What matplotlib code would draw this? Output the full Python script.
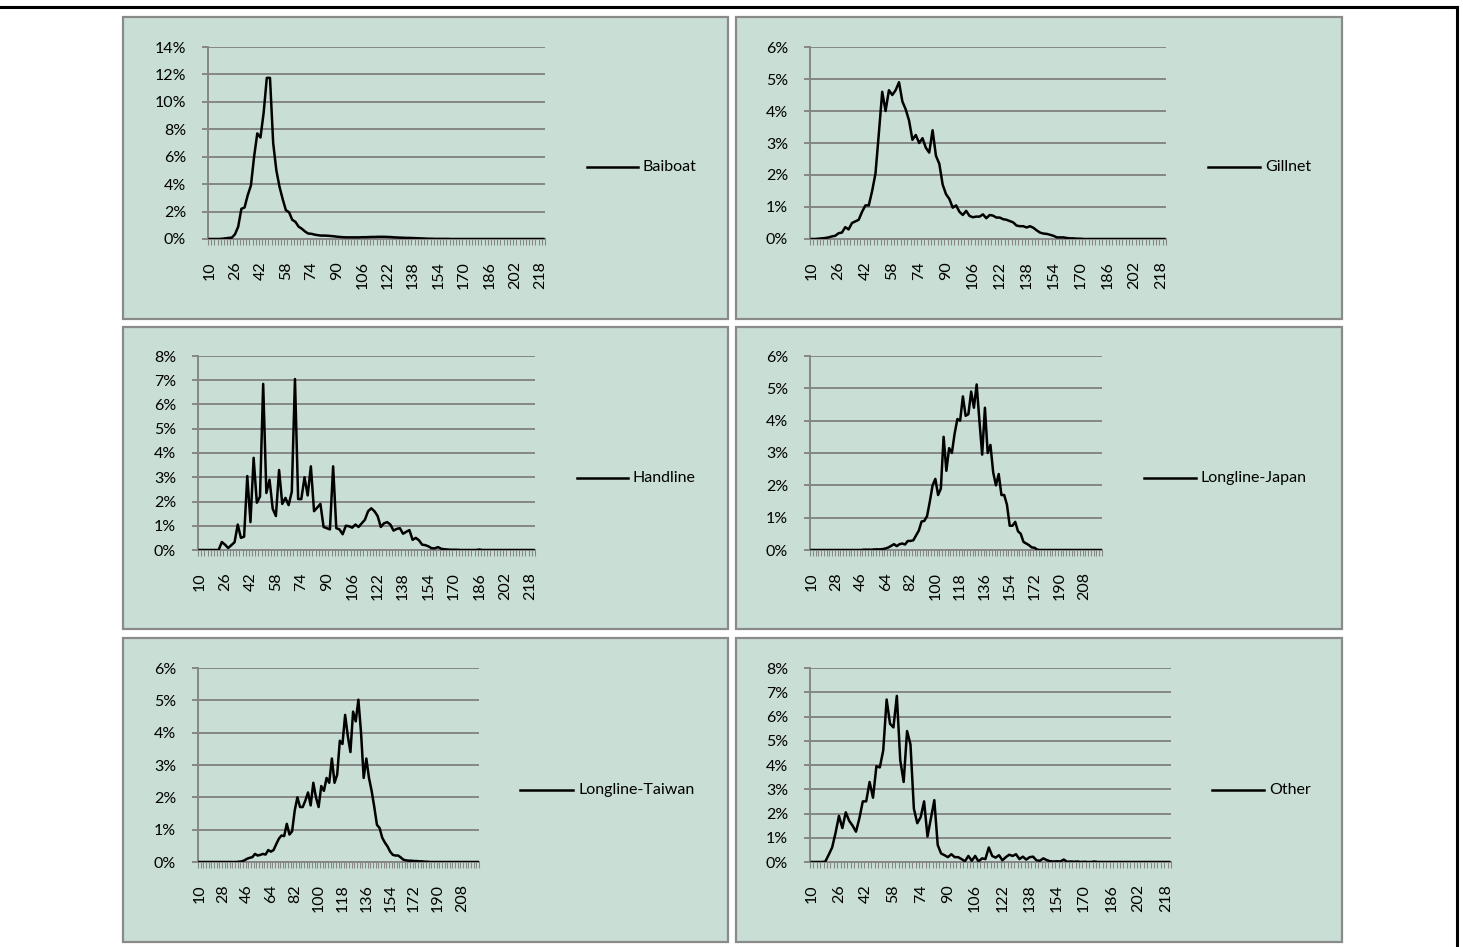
import matplotlib
matplotlib.use("Agg")
import matplotlib.pyplot as plt
import numpy as np
from matplotlib.lines import Line2D
from matplotlib.patches import Rectangle
from matplotlib.ticker import FixedLocator, FuncFormatter

plt.rcParams["font.family"] = ["Lato", "DejaVu Sans"]

W, H = 1463, 947

# length classes (cm), 2 cm bins
lengths = list(range(10, 222, 2))

# percentage of catch in each length class
baiboat = [
    0, 0, 0, 0, 0.02, 0.05, 0.08, 0.1, 0.35, 0.9,
    2.2, 2.3, 3.2, 3.9, 6.0, 7.7, 7.4, 9.2, 11.75, 11.75,
    7.0, 5.0, 3.8, 2.9, 2.1, 1.95, 1.4, 1.25, 0.9, 0.75,
    0.55, 0.4, 0.38, 0.32, 0.28, 0.25, 0.25, 0.24, 0.22, 0.2,
    0.17, 0.15, 0.13, 0.12, 0.12, 0.12, 0.12, 0.12, 0.13, 0.13,
    0.14, 0.15, 0.15, 0.16, 0.16, 0.16, 0.15, 0.14, 0.12, 0.11,
    0.1, 0.09, 0.08, 0.08, 0.07, 0.06, 0.05, 0.04, 0.03, 0.02,
    0.02, 0.01, 0.01, 0.01, 0.01, 0.01, 0, 0, 0, 0,
    0, 0, 0, 0, 0, 0, 0, 0, 0, 0,
    0, 0, 0, 0, 0, 0, 0, 0, 0, 0,
    0, 0, 0, 0, 0, 0]

gillnet = [
    0, 0, 0.01, 0.02, 0.03, 0.05, 0.08, 0.1, 0.18, 0.2,
    0.37, 0.3, 0.5, 0.55, 0.6, 0.85, 1.05, 1.05, 1.5, 2.05,
    3.3, 4.6, 4.0, 4.65, 4.5, 4.65, 4.9, 4.3, 4.05, 3.7,
    3.1, 3.25, 3.0, 3.15, 2.85, 2.7, 3.4, 2.6, 2.35, 1.7,
    1.4, 1.25, 0.98, 1.05, 0.85, 0.75, 0.88, 0.72, 0.68, 0.7,
    0.7, 0.77, 0.65, 0.75, 0.73, 0.67, 0.67, 0.62, 0.6, 0.56,
    0.52, 0.42, 0.4, 0.4, 0.36, 0.4, 0.35, 0.27, 0.2, 0.17,
    0.16, 0.13, 0.1, 0.05, 0.05, 0.05, 0.03, 0.02, 0.02, 0.01,
    0.01, 0, 0, 0, 0, 0, 0, 0, 0, 0,
    0, 0, 0, 0, 0, 0, 0, 0, 0, 0,
    0, 0, 0, 0, 0, 0]

handline = [
    0, 0, 0, 0, 0, 0, 0, 0.33, 0.22, 0.08,
    0.2, 0.32, 1.05, 0.5, 0.55, 3.05, 1.15, 3.8, 1.95, 2.2,
    6.85, 2.35, 2.9, 1.7, 1.4, 3.3, 1.9, 2.15, 1.85, 2.4,
    7.05, 2.1, 2.1, 3.0, 2.25, 3.45, 1.6, 1.75, 1.9, 0.95,
    0.9, 0.85, 3.45, 0.9, 0.85, 0.65, 1.0, 0.98, 0.92, 1.05,
    0.95, 1.1, 1.25, 1.6, 1.72, 1.6, 1.4, 0.95, 1.1, 1.15,
    1.05, 0.8, 0.87, 0.9, 0.67, 0.75, 0.82, 0.42, 0.5, 0.4,
    0.22, 0.2, 0.15, 0.07, 0.07, 0.12, 0.05, 0.03, 0.02, 0.01,
    0.01, 0.01, 0, 0, 0, 0, 0, 0, 0.02, 0,
    0, 0, 0, 0, 0, 0, 0, 0, 0, 0,
    0, 0, 0, 0, 0, 0]

longline_japan = [
    0, 0, 0, 0, 0, 0, 0, 0, 0, 0,
    0, 0, 0, 0, 0, 0, 0, 0, 0, 0.01,
    0.01, 0.01, 0.01, 0.02, 0.02, 0.02, 0.03, 0.05, 0.08, 0.13,
    0.18, 0.12, 0.18, 0.2, 0.17, 0.28, 0.28, 0.3, 0.45, 0.6,
    0.88, 0.9, 1.05, 1.5, 2.0, 2.2, 1.7, 1.9, 3.5, 2.45,
    3.15, 3.0, 3.6, 4.05, 4.0, 4.75, 4.15, 4.2, 4.9, 4.4,
    5.12, 4.0, 2.95, 4.4, 3.0, 3.25, 2.4, 2.0, 2.35, 1.7,
    1.7, 1.4, 0.75, 0.75, 0.87, 0.58, 0.5, 0.25, 0.2, 0.15,
    0.08, 0.07, 0.01, 0, 0, 0, 0, 0, 0, 0,
    0, 0, 0, 0, 0, 0, 0, 0, 0, 0,
    0, 0, 0, 0, 0, 0]

longline_taiwan = [
    0, 0, 0, 0, 0, 0, 0, 0, 0, 0,
    0, 0, 0, 0, 0, 0.01, 0.02, 0.05, 0.1, 0.13,
    0.15, 0.25, 0.2, 0.22, 0.25, 0.23, 0.37, 0.32, 0.37, 0.55,
    0.72, 0.82, 0.8, 1.18, 0.85, 0.95, 1.6, 2.0, 1.7, 1.7,
    1.9, 2.15, 1.75, 2.45, 2.0, 1.7, 2.35, 2.2, 2.6, 2.45,
    3.2, 2.45, 2.7, 3.75, 3.65, 4.55, 3.9, 3.4, 4.65, 4.35,
    5.02, 4.0, 2.6, 3.2, 2.6, 2.2, 1.7, 1.15, 1.05, 0.75,
    0.6, 0.48, 0.32, 0.22, 0.2, 0.2, 0.14, 0.07, 0.05, 0.04,
    0.04, 0.03, 0.03, 0.02, 0.02, 0.01, 0.01, 0, 0, 0,
    0, 0, 0, 0, 0, 0, 0, 0, 0, 0,
    0, 0, 0, 0, 0, 0]

other = [
    0, 0, 0, 0, 0.02, 0.3, 0.6, 1.2, 1.9, 1.4,
    2.05, 1.7, 1.5, 1.25, 1.8, 2.5, 2.5, 3.3, 2.65, 3.95,
    3.9, 4.6, 6.7, 5.7, 5.55, 6.85, 4.2, 3.3, 5.4, 4.85,
    2.2, 1.6, 1.85, 2.5, 1.05, 1.8, 2.55, 0.7, 0.35, 0.28,
    0.2, 0.32, 0.2, 0.2, 0.12, 0.03, 0.25, 0.05, 0.25, 0.02,
    0.15, 0.12, 0.6, 0.25, 0.18, 0.28, 0.07, 0.2, 0.3, 0.25,
    0.32, 0.12, 0.22, 0.1, 0.2, 0.22, 0.07, 0.05, 0.15, 0.08,
    0.03, 0.02, 0.03, 0.02, 0.1, 0.01, 0.02, 0.01, 0.02, 0,
    0.01, 0, 0, 0.02, 0, 0, 0, 0, 0, 0,
    0, 0, 0, 0, 0, 0, 0, 0, 0, 0,
    0, 0, 0, 0, 0, 0]

names = ["Baiboat", "Gillnet", "Handline", "Longline-Japan", "Longline-Taiwan", "Other"]
series = [baiboat, gillnet, handline, longline_japan, longline_taiwan, other]
y_max = [14, 6, 8, 6, 6, 8]
y_step = [2, 1, 1, 1, 1, 1]
label_every = [8, 8, 8, 9, 9, 8]

# layout in pixels
panels = [(123, 17, 728, 319), (736, 17, 1342, 319),
          (123, 327, 728, 629), (736, 327, 1342, 629),
          (123, 638, 728, 942), (736, 638, 1342, 942)]
plot_boxes = [(208, 47, 545, 239), (810, 47, 1166, 239),
              (198, 356, 535, 550), (810, 356, 1102, 550),
              (198, 668, 479, 862), (810, 668, 1171, 862)]
legend_pos = [(587, 638, 167), (1208, 1260, 167),
              (577, 628, 478), (1144, 1196, 478),
              (520, 573, 790), (1212, 1264, 790)]

bg = "#C9DFD6"
grey = "#868686"
fs = 11.5

fig = plt.figure(figsize=(W / 100, H / 100), dpi=100)

# outer frame lines
fig.add_artist(Line2D([0, 1457 / W], [1 - 7 / H, 1 - 7 / H], color="black", lw=2.2))
fig.add_artist(Line2D([1457 / W, 1457 / W], [1 - 7 / H, 0], color="black", lw=2.2))

n = len(lengths)
xs = np.arange(n)

for k in range(6):
    px0, py0, px1, py1 = panels[k]
    fig.add_artist(Rectangle((px0 / W, 1 - py1 / H), (px1 - px0) / W, (py1 - py0) / H,
                             transform=fig.transFigure, facecolor=bg,
                             edgecolor="#8a8a8a", lw=1.6, zorder=-1))

    x0, y0, x1, y1 = plot_boxes[k]
    ax = fig.add_axes([x0 / W, 1 - y1 / H, (x1 - x0) / W, (y1 - y0) / H])
    ax.set_facecolor("none")
    ax.plot(xs, np.array(series[k]) / 100, color="black", lw=1.8, zorder=3)

    ax.set_xlim(-0.5, n - 0.5)
    ax.set_ylim(0, y_max[k] / 100)
    yt = np.arange(0, y_max[k] + y_step[k] / 2, y_step[k]) / 100
    ax.set_yticks(yt)
    ax.yaxis.set_major_formatter(FuncFormatter(lambda v, p: "%d%%" % round(v * 100)))
    ax.grid(axis="y", color=grey, lw=1.4)
    ax.set_axisbelow(True)

    lab_idx = xs[::label_every[k]]
    ax.set_xticks(lab_idx)
    ax.set_xticklabels([str(lengths[i]) for i in lab_idx], rotation=90)
    ax.xaxis.set_minor_locator(FixedLocator(np.arange(n + 1) - 0.5))

    ax.tick_params(axis="x", which="major", length=0, pad=16, labelsize=fs)
    ax.tick_params(axis="x", which="minor", length=4, width=0.8, color=grey, direction="out")
    ax.tick_params(axis="y", which="major", length=4.3, width=1.4, color=grey, pad=11.5, labelsize=fs)

    for s in ["top", "right"]:
        ax.spines[s].set_visible(False)
    for s in ["left", "bottom"]:
        ax.spines[s].set_color(grey)
        ax.spines[s].set_linewidth(1.4)

    lx0, lx1, ly = legend_pos[k]
    fig.add_artist(Line2D([lx0 / W, lx1 / W], [1 - ly / H, 1 - ly / H], color="black", lw=1.8))
    fig.text((lx1 + 5) / W, 1 - ly / H, names[k], ha="left", va="center", fontsize=fs)

fig.savefig("out.png", dpi=100)
